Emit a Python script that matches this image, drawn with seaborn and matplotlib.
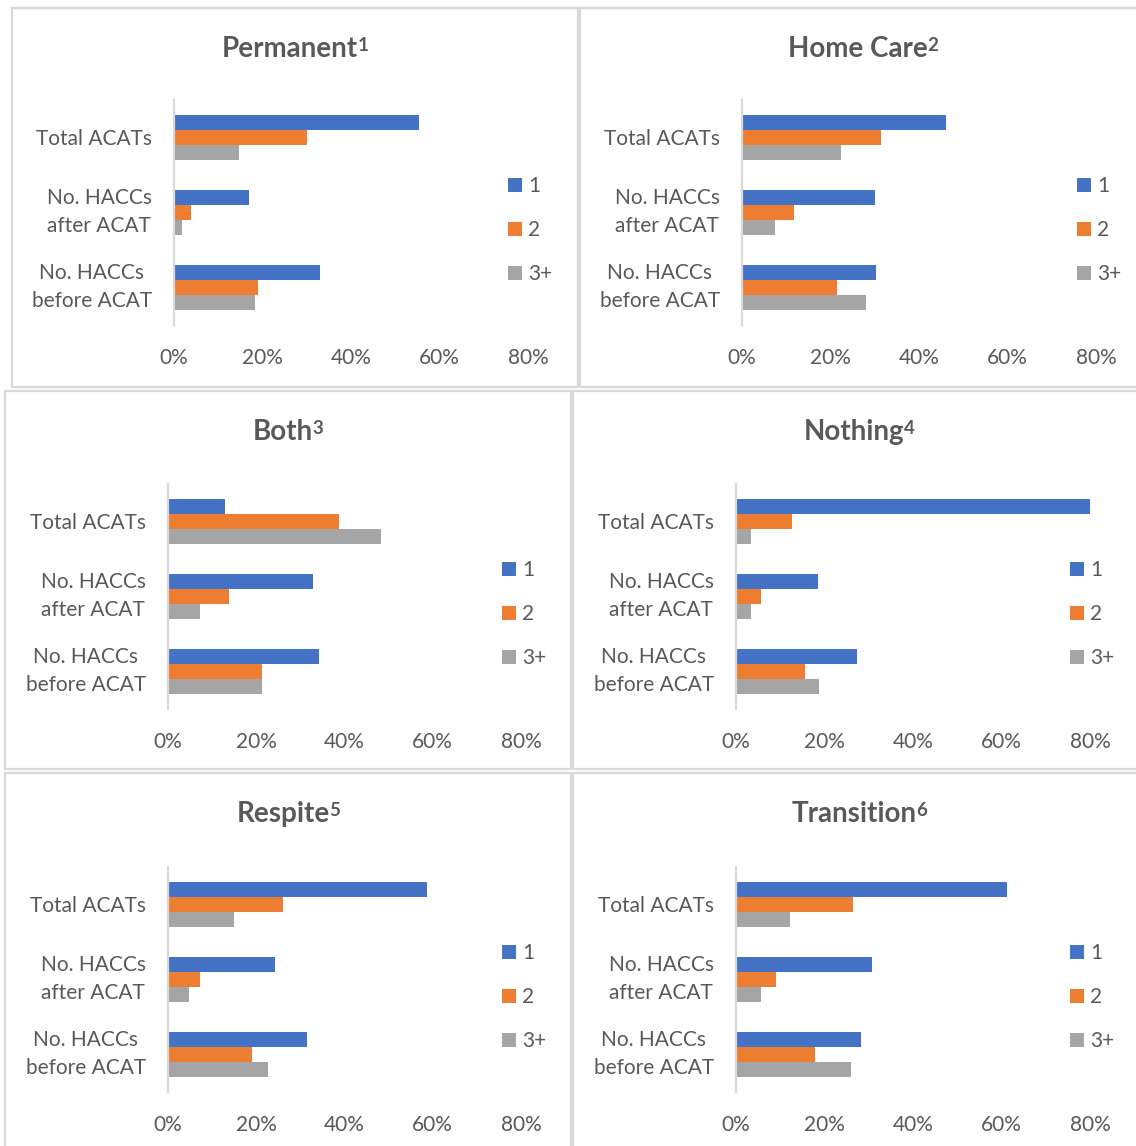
import matplotlib
matplotlib.use("Agg")
import matplotlib.pyplot as plt
from matplotlib.patches import Rectangle
from matplotlib.text import Annotation
from matplotlib.ticker import PercentFormatter
import numpy as np
import pandas as pd
import seaborn as sns

# categories (top to bottom) and series
categories = ["Total ACATs", "No. HACCs\nafter ACAT", "No. HACCs\nbefore ACAT"]
groups = ["1", "2", "3+"]
colors = ["#4472C4", "#ED7D31", "#A5A5A5"]

# values in %, one row per group (1, 2, 3+), columns follow categories
permanent = [[55.3, 17.0, 33.1], [30.0, 3.9, 19.0], [14.7, 1.7, 18.2]]
home_care = [[46.2, 30.0, 30.3], [31.4, 11.8, 21.5], [22.3, 7.4, 28.0]]
both = [[12.9, 32.9, 34.2], [38.8, 13.8, 21.2], [48.2, 7.3, 21.2]]
nothing = [[80.4, 18.5, 27.3], [12.7, 5.6, 15.5], [3.5, 3.3, 18.8]]
respite = [[58.8, 24.2, 31.4], [26.1, 7.3, 19.0], [15.0, 4.7, 22.6]]
transition = [[61.2, 30.7, 28.2], [26.4, 9.0, 17.8], [12.1, 5.7, 25.9]]

titles = ["Permanent", "Home Care", "Both", "Nothing", "Respite", "Transition"]
footnotes = ["1", "2", "3", "4", "5", "6"]
xticks = [0, 20, 40, 60, 80]

sns.set_theme(style="white")
plt.rcParams['font.family'] = ['Lato', 'DejaVu Sans']

W, H = 1136, 1146
fig = plt.figure(figsize=(W / 100, H / 100), dpi=100)


def fx(px):
    return px / W


def fy(py):
    return 1 - py / H


# layout in pixels: box (x0, y0, x1, y1), axis left, axis right, centre of first category, legend x
layout = [
    ((12, 8, 578, 387), 174, 528, 137, 508),
    ((580, 8, 1146, 387), 742, 1096, 137, 1077),
    ((5, 391, 571, 769), 168, 521, 521, 502),
    ((573, 391, 1146, 769), 736, 1090, 521, 1070),
    ((5, 773, 571, 1152), 168, 521, 904, 502),
    ((573, 773, 1146, 1152), 736, 1090, 904, 1070),
]
all_values = [permanent, home_care, both, nothing, respite, transition]

text_col = "#595959"
line_col = "#D9D9D9"

for title, note, values, (box, ax_l, ax_r, c0, leg_x) in zip(titles, footnotes, all_values, layout):
    x0, y0, x1, y1 = box
    fig.add_artist(Rectangle((fx(x0), fy(y1)), fx(x1) - fx(x0), (y1 - y0) / H,
                             transform=fig.transFigure, fill=False,
                             edgecolor=line_col, lw=1.6))

    df = pd.DataFrame({
        "cat": categories * 3,
        "group": np.repeat(groups, 3),
        "value": np.concatenate(values),
    })

    top = c0 - 37.5
    ax = fig.add_axes([fx(ax_l), fy(top + 225), fx(ax_r) - fx(ax_l), 225 / H])
    sns.barplot(data=df, y="cat", x="value", hue="group", orient="h",
                order=categories, hue_order=groups, palette=colors,
                width=0.6, saturation=1, linewidth=0, ax=ax)
    ax.set_xlim(0, 80)
    ax.set_ylim(2.5, -0.5)
    ax.set_xticks(xticks)
    ax.xaxis.set_major_formatter(PercentFormatter(100, decimals=0))
    ax.set_xlabel("")
    ax.set_ylabel("")
    ax.tick_params(axis="x", length=0, labelsize=15, labelcolor=text_col, pad=17)
    ax.tick_params(axis="y", length=0, labelsize=15, labelcolor=text_col, pad=16)
    for t in ax.get_yticklabels():
        if "\n" in t.get_text():
            t.set_multialignment("center")
            t.set_linespacing(1.55)
            t.set_verticalalignment("center")
    for s in ["top", "right", "bottom"]:
        ax.spines[s].set_visible(False)
    ax.spines["left"].set_color(line_col)
    ax.spines["left"].set_linewidth(1.6)
    ax.patch.set_alpha(0)

    handles, labels = ax.get_legend_handles_labels()
    ax.get_legend().remove()
    fig.legend(handles, labels, loc="upper left",
               bbox_to_anchor=(fx(leg_x), fy(c0 + 39)),
               frameon=False, fontsize=15, labelcolor=text_col,
               handlelength=0.65, handleheight=0.65, handletextpad=0.3,
               labelspacing=1.15, borderpad=0, borderaxespad=0)

    # title in bold with its footnote number as superscript
    t = fig.text(fx((x0 + x1) / 2 - 5), fy(y0 + 41), title, ha="center", va="center",
                 fontsize=20, fontweight="bold", color=text_col)
    sup = Annotation(note, xy=(1, 1), xycoords=t, xytext=(-0.5, -1),
                     textcoords="offset points", ha="left", va="top",
                     fontsize=13.5, fontweight="bold", color=text_col)
    fig.add_artist(sup)

fig.savefig("out.png", dpi=100)
